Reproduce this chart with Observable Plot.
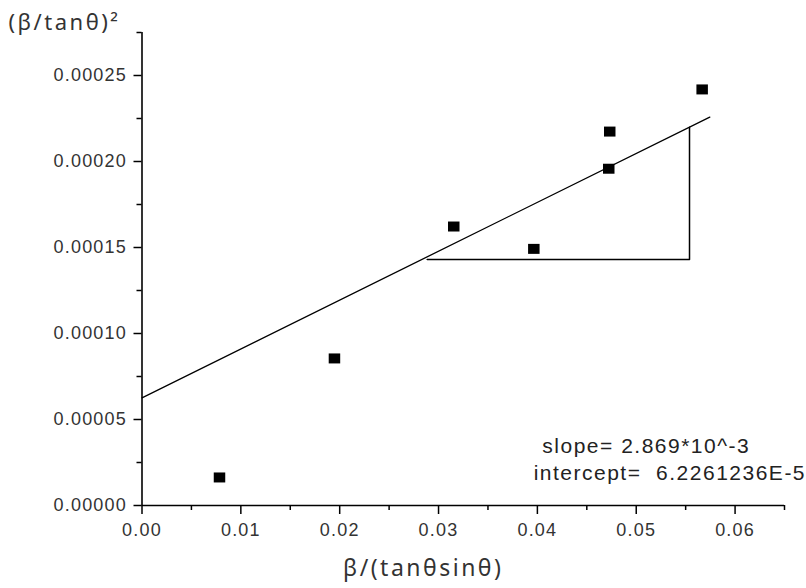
<!DOCTYPE html>
<html>
<head>
<meta charset="utf-8">
<script src="https://cdn.jsdelivr.net/npm/d3@7"></script>
<script src="https://cdn.jsdelivr.net/npm/@observablehq/plot@0.6"></script>
<style>
  html, body { margin: 0; padding: 0; background: #fff; }
  g[font-family="Arial"] text { letter-spacing: 1.2px; }
  g[font-family="Liberation Sans"] text { letter-spacing: 1.5px; }
  g[font-family="Noto Sans"] text { letter-spacing: 2.5px; }
</style>
</head>
<body>
<div id="chart"></div>
<script>
// Data points
const xs = [0.00784, 0.01947, 0.03154, 0.03964, 0.04722, 0.04732, 0.05667];
const ys = [1.63e-5, 8.55e-5, 1.622e-4, 1.492e-4, 1.958e-4, 2.174e-4, 2.419e-4];

// Fitted line (as drawn) and slope triangle
const fitX = [0, 0.05744];
const fitY = [6.26e-5, 2.258e-4];
const triX = [0.02885, 0.05539, 0.05539];
const triY = [1.430e-4, 1.430e-4, 2.199e-4];

// Ticks
const xTicks = [0, 0.01, 0.02, 0.03, 0.04, 0.05, 0.06];
const xMinor = [0.005, 0.015, 0.025, 0.035, 0.045, 0.055, 0.065];
const yTicks = [0, 0.00005, 0.0001, 0.00015, 0.0002, 0.00025];
const yMinor = [0.000025, 0.000075, 0.000125, 0.000175, 0.000225, 0.000275];

// Texts
const xTitle = "β/(tanθsinθ)";
const yTitle = "(β/tanθ)²";
const annot = ["slope= 2.869*10^-3", "intercept=  6.2261236E-5"];

const points = xs.map((x, i) => ({x, y: ys[i]}));
const fit = fitX.map((x, i) => ({x, y: fitY[i]}));
const tri = triX.map((x, i) => ({x, y: triY[i]}));

const rectSymbol = {
  draw(ctx, size) {
    const s = Math.sqrt(size);
    const w = s * 0.575, h = s * 0.5;
    ctx.moveTo(-w, -h); ctx.lineTo(w, -h); ctx.lineTo(w, h); ctx.lineTo(-w, h); ctx.closePath();
  }
};

const chart = Plot.plot({
  width: 806,
  height: 588,
  marginLeft: 141.5,
  marginRight: 22,
  marginTop: 32,
  marginBottom: 83,
  style: {background: "white", color: "black"},
  x: {domain: [0, 0.065], label: null},
  y: {domain: [0, 0.000275], label: null},
  marks: [
    Plot.ruleX([0], {stroke: "black", strokeWidth: 1.6}),
    Plot.ruleY([0], {stroke: "black", strokeWidth: 1.6}),
    Plot.axisX(xTicks, {tickSize: 9, tickPadding: 9, tickFormat: d3.format(".2f"), fontSize: 18, fontFamily: "Arial", fill: "#333", stroke: "black", strokeWidth: 1.5, label: null}),
    Plot.axisX(xMinor, {tickSize: 5, fill: "none", stroke: "black", strokeWidth: 1.5, label: null}),
    Plot.axisY(yTicks, {tickSize: 8, tickPadding: 7, tickFormat: d3.format(".5f"), fontSize: 18, fontFamily: "Arial", fill: "#333", stroke: "black", strokeWidth: 1.5, label: null}),
    Plot.axisY(yMinor, {tickSize: 5, fill: "none", stroke: "black", strokeWidth: 1.5, label: null}),
    Plot.line(fit, {x: "x", y: "y", stroke: "black", strokeWidth: 1.3}),
    Plot.line(tri, {x: "x", y: "y", stroke: "black", strokeWidth: 1.5}),
    Plot.dot(points, {x: "x", y: "y", symbol: rectSymbol, r: 5.64, fill: "black", stroke: "none"}),
    Plot.text([annot[0]], {x: 0.0405, y: 3.43e-5, textAnchor: "start", lineAnchor: "middle", fontSize: 21, fontFamily: "Liberation Sans", fill: "#222"}),
    Plot.text([annot[1]], {x: 0.03962, y: 1.86e-5, textAnchor: "start", lineAnchor: "middle", fontSize: 21, fontFamily: "Liberation Sans", fill: "#222"}),
    Plot.text([yTitle], {frameAnchor: "top-left", dx: -133.5, dy: -10, textAnchor: "start", lineAnchor: "middle", fontSize: 22, fontFamily: "Noto Sans", fill: "#333"}),
    Plot.text([xTitle], {frameAnchor: "bottom", dx: -40, dy: 63, textAnchor: "middle", lineAnchor: "middle", fontSize: 23, fontFamily: "Noto Sans", fill: "#333"})
  ]
});
document.getElementById("chart").appendChild(chart);
</script>
</body>
</html>
